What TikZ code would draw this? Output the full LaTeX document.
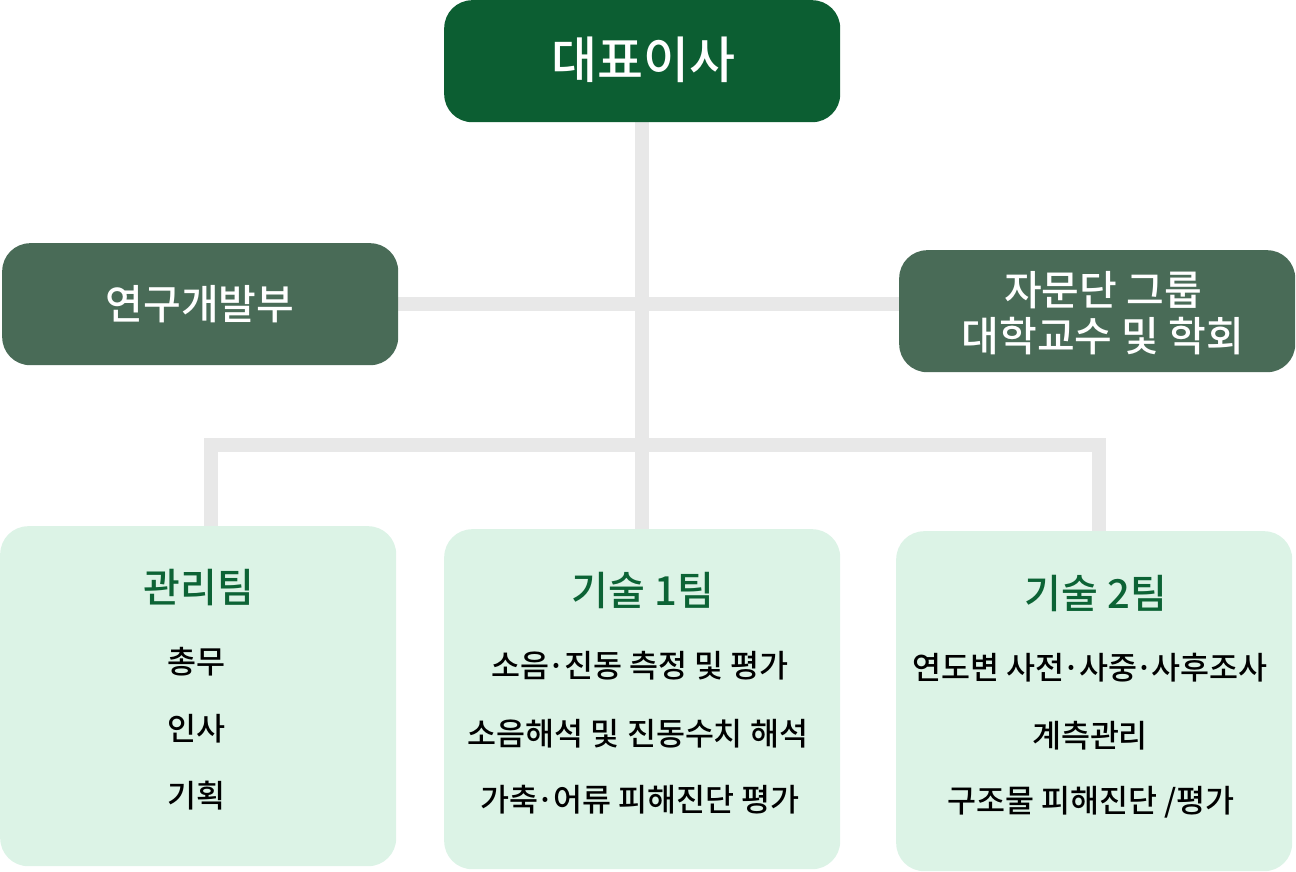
\documentclass[tikz,border=0pt]{standalone}
\usepackage{fontspec}
\setmainfont{Noto Sans CJK KR}[BoldFont={Noto Sans CJK KR Medium}]
\usetikzlibrary{backgrounds}
\newcommand\middot{\kern-0.06em·\kern-0.06em}
\begin{document}
\begin{tikzpicture}[x=1pt,y=-1pt]
\definecolor{topgreen}{HTML}{0C5E32}
\definecolor{midgreen}{HTML}{496B57}
\definecolor{lightfill}{HTML}{DCF3E6}
\definecolor{linegray}{HTML}{E8E8E8}
\definecolor{titlegreen}{HTML}{0C6335}
\tikzset{
  box/.style={rounded corners=28pt, inner sep=0pt, minimum width=396pt, anchor=north west},
  topbox/.style={box, fill=topgreen, minimum height=122pt},
  midbox/.style={box, fill=midgreen, minimum height=122pt},
  teambox/.style={box, fill=lightfill, minimum height=340pt},
  conn/.style={draw=linegray, line width=14pt},
  toptext/.style={text=white, font=\bfseries\fontsize{50}{54}\selectfont},
  midtext/.style={text=white, font=\bfseries\fontsize{41}{46}\selectfont, align=center},
  titletext/.style={text=titlegreen, font=\bfseries\fontsize{40}{44}\selectfont},
  itemtext/.style={text=black, font=\bfseries\fontsize{31.5}{34}\selectfont}
}
\useasboundingbox (0,0) rectangle (1296,872);
\coordinate (lbar) at (211,445);
\coordinate (rbar) at (1099,445);
\node[topbox] (ceo) at (444,0) {};
\node[midbox] (rnd) at (2,243) {};
\node[midbox] (adv) at (899,250) {};
\node[teambox] (mgmt) at (0,526) {};
\node[teambox] (tech1) at (444,529) {};
\node[teambox] (tech2) at (896,531) {};
\begin{scope}[on background layer]
\draw[conn] (ceo.south) -- (tech1.north);
\draw[conn] (rnd.east) -- (rnd.east -| adv.west);
\draw[conn] (lbar |- mgmt.north) -- (lbar) -- (rbar) -- (rbar |- tech2.north);
\end{scope}
% texts
\node[toptext] (ceot) at (643,60) {대표이사};
\node[midtext] (rndt) at (200,304) {연구개발부};
\node[midtext] (advt1) at (1103,290) {자문단 그룹};
\node[midtext] (advt2) at (1103,336) {대학교수 및 학회};
\node[titletext] (m0) at (199,588) {관리팀};
\node[itemtext] (m1) at (196,662) {총무};
\node[itemtext] (m2) at (196,729) {인사};
\node[itemtext] (m3) at (196,796) {기획};
\node[titletext] (t10) at (643,590) {기술 1팀};
\node[itemtext] (t11) at (640,666) {소음\middot 진동 측정 및 평가};
\node[itemtext] (t12) at (638,734) {소음해석 및 진동수치 해석};
\node[itemtext] (t13) at (640,800) {가축\middot 어류 피해진단 평가};
\node[titletext] (t20) at (1096,593) {기술 2팀};
\node[itemtext] (t21) at (1090,668) {연도변 사전\middot 사중\middot 사후조사};
\node[itemtext] (t22) at (1090,736) {계측관리};
\node[itemtext] (t23) at (1091,802) {구조물 피해진단 /평가};
\end{tikzpicture}
\end{document}
